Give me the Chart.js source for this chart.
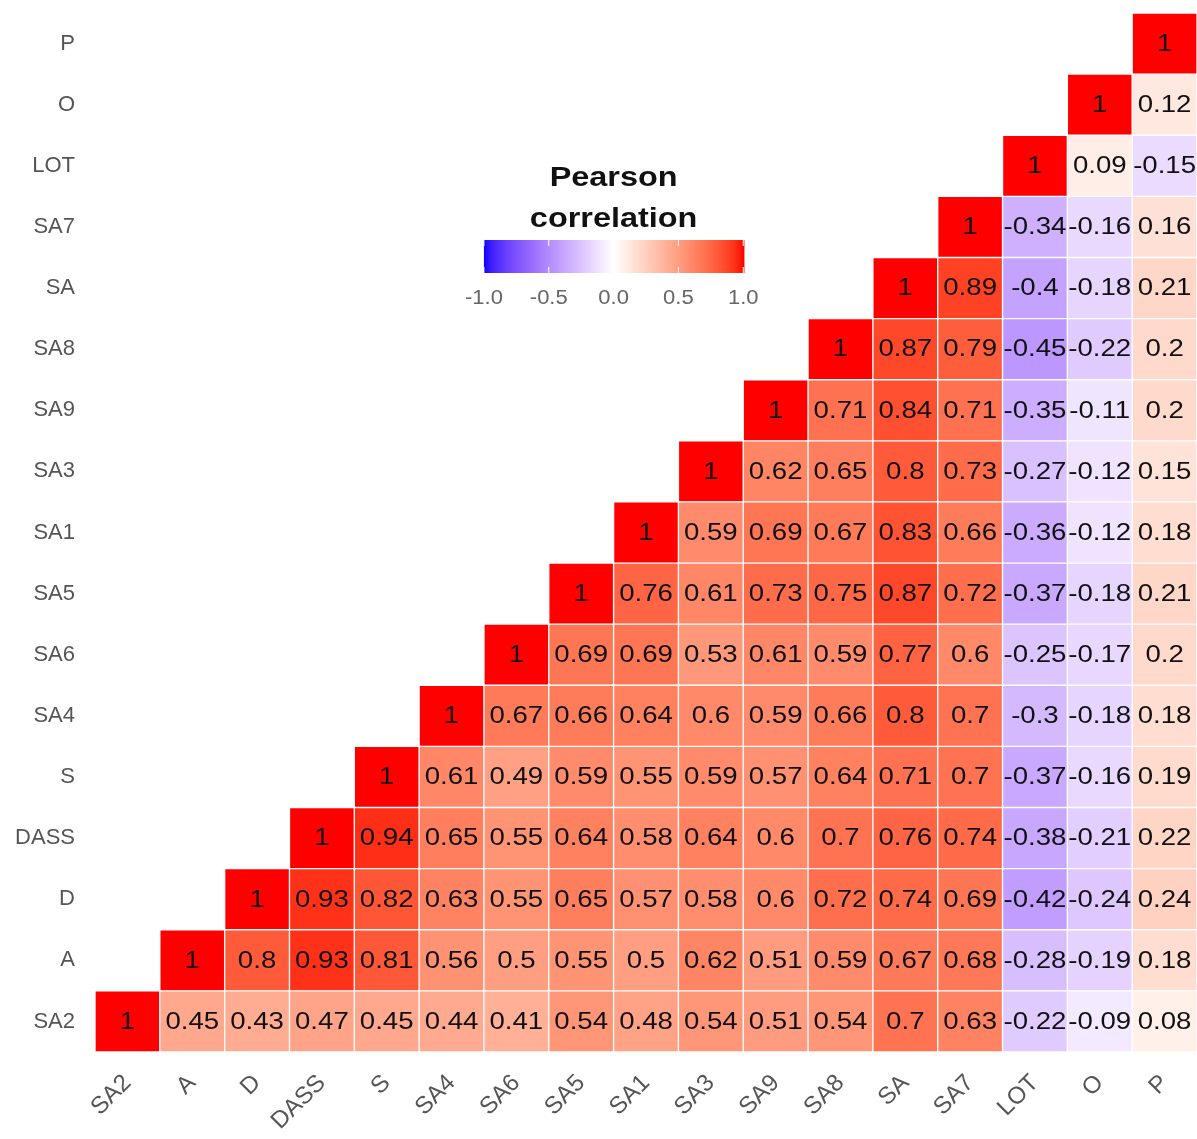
<!DOCTYPE html>
<html>
<head>
<meta charset="utf-8">
<script src="https://cdn.jsdelivr.net/npm/chart.js@4.4.1/dist/chart.umd.min.js"></script>
<style>
  html, body { margin: 0; padding: 0; background: #fff; }
  #wrap { width: 1197px; height: 1139px; }
</style>
</head>
<body>
<div id="wrap"><canvas id="corrChart"></canvas></div>
<script>
// variable order, left to right on x and bottom to top on y
const vars = ["SA2", "A", "D", "DASS", "S", "SA4", "SA6", "SA5", "SA1", "SA3", "SA9", "SA8", "SA", "SA7", "LOT", "O", "P"];

// each row starts at its own diagonal cell
const rowSA2 = [1, 0.45, 0.43, 0.47, 0.45, 0.44, 0.41, 0.54, 0.48, 0.54, 0.51, 0.54, 0.7, 0.63, -0.22, -0.09, 0.08];
const rowA = [1, 0.8, 0.93, 0.81, 0.56, 0.5, 0.55, 0.5, 0.62, 0.51, 0.59, 0.67, 0.68, -0.28, -0.19, 0.18];
const rowD = [1, 0.93, 0.82, 0.63, 0.55, 0.65, 0.57, 0.58, 0.6, 0.72, 0.74, 0.69, -0.42, -0.24, 0.24];
const rowDASS = [1, 0.94, 0.65, 0.55, 0.64, 0.58, 0.64, 0.6, 0.7, 0.76, 0.74, -0.38, -0.21, 0.22];
const rowS = [1, 0.61, 0.49, 0.59, 0.55, 0.59, 0.57, 0.64, 0.71, 0.7, -0.37, -0.16, 0.19];
const rowSA4 = [1, 0.67, 0.66, 0.64, 0.6, 0.59, 0.66, 0.8, 0.7, -0.3, -0.18, 0.18];
const rowSA6 = [1, 0.69, 0.69, 0.53, 0.61, 0.59, 0.77, 0.6, -0.25, -0.17, 0.2];
const rowSA5 = [1, 0.76, 0.61, 0.73, 0.75, 0.87, 0.72, -0.37, -0.18, 0.21];
const rowSA1 = [1, 0.59, 0.69, 0.67, 0.83, 0.66, -0.36, -0.12, 0.18];
const rowSA3 = [1, 0.62, 0.65, 0.8, 0.73, -0.27, -0.12, 0.15];
const rowSA9 = [1, 0.71, 0.84, 0.71, -0.35, -0.11, 0.2];
const rowSA8 = [1, 0.87, 0.79, -0.45, -0.22, 0.2];
const rowSA = [1, 0.89, -0.4, -0.18, 0.21];
const rowSA7 = [1, -0.34, -0.16, 0.16];
const rowLOT = [1, 0.09, -0.15];
const rowO = [1, 0.12];
const rowP = [1];

const rows = [rowSA2, rowA, rowD, rowDASS, rowS, rowSA4, rowSA6, rowSA5, rowSA1, rowSA3, rowSA9, rowSA8, rowSA, rowSA7, rowLOT, rowO, rowP];

const legendTicks = [-1.0, -0.5, 0.0, 0.5, 1.0];

// blue - white - red gradient, interpolated in CIELAB like ggplot
function toLinear(c) {
  c = c / 255;
  return c <= 0.04045 ? c / 12.92 : Math.pow((c + 0.055) / 1.055, 2.4);
}
function fromLinear(c) {
  c = c <= 0.0031308 ? 12.92 * c : 1.055 * Math.pow(c, 1 / 2.4) - 0.055;
  return Math.round(Math.min(1, Math.max(0, c)) * 255);
}
function rgbToLab(rgb) {
  const r = toLinear(rgb[0]), g = toLinear(rgb[1]), b = toLinear(rgb[2]);
  const X = (0.4124 * r + 0.3576 * g + 0.1805 * b) / 0.95047;
  const Y = 0.2126 * r + 0.7152 * g + 0.0722 * b;
  const Z = (0.0193 * r + 0.1192 * g + 0.9505 * b) / 1.08883;
  const f = (t) => (t > 0.008856 ? Math.cbrt(t) : 7.787 * t + 16 / 116);
  const fx = f(X), fy = f(Y), fz = f(Z);
  return [116 * fy - 16, 500 * (fx - fy), 200 * (fy - fz)];
}
function labToRgb(lab) {
  const fy = (lab[0] + 16) / 116;
  const fx = fy + lab[1] / 500;
  const fz = fy - lab[2] / 200;
  const inv = (t) => (t > 0.206893 ? t * t * t : (t - 16 / 116) / 7.787);
  const X = inv(fx) * 0.95047, Y = inv(fy), Z = inv(fz) * 1.08883;
  const r = 3.2406 * X - 1.5372 * Y - 0.4986 * Z;
  const g = -0.9689 * X + 1.8758 * Y + 0.0415 * Z;
  const b = 0.0557 * X - 0.204 * Y + 1.057 * Z;
  return "rgb(" + fromLinear(r) + "," + fromLinear(g) + "," + fromLinear(b) + ")";
}
const labWhite = rgbToLab([255, 255, 255]);
const labRed = rgbToLab([255, 0, 0]);
const labBlue = rgbToLab([0, 0, 255]);
function corrColor(v) {
  const end = v >= 0 ? labRed : labBlue;
  const t = Math.min(1, Math.abs(v));
  return labToRgb(labWhite.map((w, i) => w + (end[i] - w) * t));
}

// one floating-bar dataset per row
const datasets = rows.map((row, j) => {
  const data = vars.map((_, i) => (i >= j ? [j, j + 1] : null));
  const colors = vars.map((_, i) => (i >= j ? corrColor(row[i - j]) : "rgba(0,0,0,0)"));
  return {
    label: vars[j],
    data: data,
    corr: row,
    rowIndex: j,
    backgroundColor: colors,
    borderColor: "#ffffff",
    borderWidth: 1,
    borderSkipped: false,
    grouped: false,
    barPercentage: 1,
    categoryPercentage: 1,
  };
});

// numbers inside cells
const cellLabels = {
  id: "cellLabels",
  afterDatasetsDraw(chart) {
    const ctx = chart.ctx;
    ctx.save();
    ctx.fillStyle = "#111";
    ctx.font = "23px 'Liberation Sans', Arial, sans-serif";
    ctx.textAlign = "center";
    ctx.textBaseline = "middle";
    chart.data.datasets.forEach((ds, d) => {
      const meta = chart.getDatasetMeta(d);
      meta.data.forEach((bar, i) => {
        if (i < ds.rowIndex) return;
        const v = ds.corr[i - ds.rowIndex];
        const cy = (bar.y + bar.base) / 2;
        ctx.save();
        ctx.translate(bar.x, cy + 1);
        ctx.scale(1.2, 1);
        ctx.fillText(String(v), 0, 0);
        ctx.restore();
      });
    });
    ctx.restore();
  },
};

// colour bar legend
const colourBar = {
  id: "colourBar",
  afterDraw(chart) {
    const ctx = chart.ctx;
    const area = chart.chartArea;
    const colW = (area.right - area.left) / vars.length;
    const left = area.left + 6 * colW;
    const right = area.left + 10 * colW;
    const top = area.top + 227;
    const h = 33;
    const cx = (left + right) / 2;

    ctx.save();
    ctx.fillStyle = "#111";
    ctx.font = "bold 27px 'Liberation Sans', Arial, sans-serif";
    ctx.textAlign = "center";
    ctx.textBaseline = "alphabetic";
    [["Pearson", top - 54], ["correlation", top - 13]].forEach(([t, y]) => {
      ctx.save();
      ctx.translate(cx, y);
      ctx.scale(1.2, 1);
      ctx.fillText(t, 0, 0);
      ctx.restore();
    });

    const w = right - left;
    for (let px = 0; px < w; px++) {
      const v = -1 + (2 * (px + 0.5)) / w;
      ctx.fillStyle = corrColor(v);
      ctx.fillRect(left + px, top, 1.5, h);
    }

    ctx.fillStyle = "#666";
    ctx.font = "20px 'Liberation Sans', Arial, sans-serif";
    ctx.textBaseline = "middle";
    legendTicks.forEach((t) => {
      const x = left + ((t + 1) / 2) * w;
      ctx.strokeStyle = "#ffffff";
      ctx.lineWidth = 1;
      ctx.beginPath();
      ctx.moveTo(x, top);
      ctx.lineTo(x, top + 6);
      ctx.moveTo(x, top + h);
      ctx.lineTo(x, top + h - 6);
      ctx.stroke();
      ctx.save();
      ctx.translate(x, top + h + 25);
      ctx.scale(1.1, 1);
      ctx.fillText(t.toFixed(1), 0, 0);
      ctx.restore();
    });
    ctx.restore();
  },
};

const fontFamily = "'Liberation Sans', Arial, sans-serif";

const config = {
  type: "bar",
  data: { labels: vars, datasets: datasets },
  options: {
    responsive: true,
    maintainAspectRatio: false,
    animation: false,
    layout: { padding: { top: 13, right: 0, left: 0, bottom: 0 } },
    plugins: {
      legend: { display: false },
      tooltip: { enabled: false },
    },
    scales: {
      x: {
        type: "category",
        grid: { display: false },
        border: { display: false },
        ticks: {
          color: "#555",
          font: { family: fontFamily, size: 24 },
          autoSkip: false,
          minRotation: 45,
          maxRotation: 45,
          padding: 9,
        },
        afterFit(scale) {
          scale.height = 87;
          scale.paddingLeft = 0;
          scale.paddingRight = 0;
        },
      },
      y: {
        type: "linear",
        min: 0,
        max: vars.length,
        grid: { display: false },
        border: { display: false },
        afterBuildTicks(scale) {
          scale.ticks = vars.map((_, i) => ({ value: i + 0.5 }));
        },
        ticks: {
          color: "#555",
          font: { family: fontFamily, size: 22 },
          padding: 12,
          callback: (value) => vars[Math.floor(value)],
        },
        afterFit(scale) {
          scale.width = 95;
          scale.paddingTop = 0;
          scale.paddingBottom = 0;
        },
      },
    },
  },
  plugins: [cellLabels, colourBar],
};

const myChart = new Chart(document.getElementById("corrChart"), config);
</script>
</body>
</html>
